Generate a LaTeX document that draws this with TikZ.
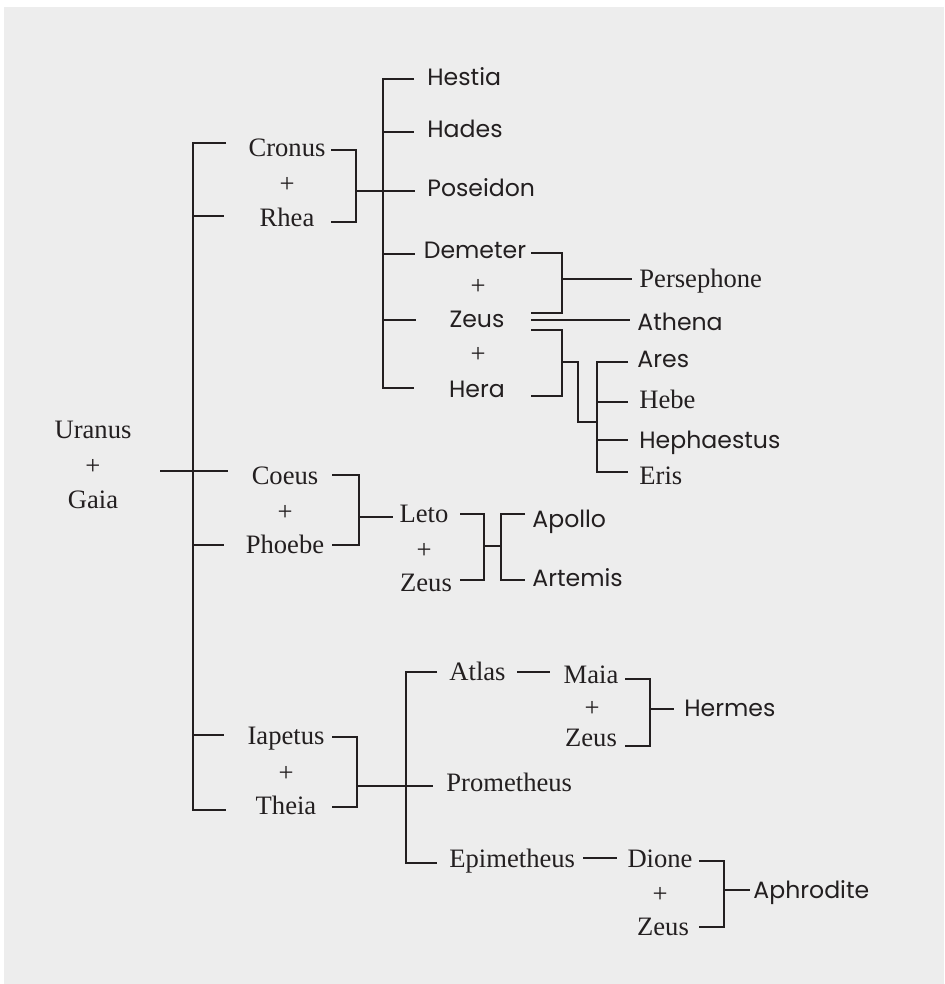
\documentclass[tikz,border=0pt]{standalone}
\usepackage{fontspec}
\setmainfont{Liberation Serif}
\newfontfamily\gsans{Poppins}
\definecolor{ink}{HTML}{231F20}
\definecolor{bg}{HTML}{EDEDED}
\newcommand\mybrk[6]{\draw[conn] (#1,#3) -- (#2,#3) -- (#2,#4) -- (#1,#4); \draw[conn] (#2,#5) -- (#6,#5);}
\newcommand\mybus[4]{\draw[conn] (#2,#3) -- (#1,#3) -- (#1,#4) -- (#2,#4);}
\tikzset{
  rm/.style={inner sep=0pt, text=ink, font=\fontsize{13.3}{16}\selectfont},
  sf/.style={inner sep=0pt, text=ink, font=\gsans\fontsize{11.8}{14}\selectfont},
  conn/.style={draw=ink, line width=1pt, line cap=butt, line join=miter}
}
\begin{document}
\begin{tikzpicture}[x=0.5pt,y=-0.5pt]
\useasboundingbox (0,0) rectangle (944,984);
\fill[white] (0,0) rectangle (944,984);
\fill[bg] (4,7) rectangle (944,984);

% ---- texts ----
\node[rm,anchor=base] (uranus) at (93,438) {Uranus};
\node[rm] (pu) at (93,467) {+};
\node[rm,anchor=base] (gaia) at (93,508) {Gaia};

\node[rm,anchor=base] (cronus) at (287,157) {Cronus};
\node[rm] (pc) at (287,185) {+};
\node[rm,anchor=base] (rhea) at (287,227) {Rhea};

\node[sf,anchor=base west] (hestia) at (427,86) {Hestia};
\node[sf,anchor=base west] (hades) at (427,138) {Hades};
\node[sf,anchor=base west] (poseidon) at (427,197) {Poseidon};
\node[sf,anchor=base] (demeter) at (475,258) {Demeter};
\node[rm] (pd1) at (478,287) {+};
\node[sf,anchor=base] (zeusm) at (477,327) {Zeus};
\node[rm] (pd2) at (478,355) {+};
\node[sf,anchor=base] (hera) at (477,397) {Hera};

\node[rm,anchor=base west] (persephone) at (639,287) {Persephone};
\node[sf,anchor=base west] (athena) at (637,330) {Athena};
\node[sf,anchor=base west] (ares) at (637,367) {Ares};
\node[rm,anchor=base west] (hebe) at (639,408) {Hebe};
\node[sf,anchor=base west] (hephaestus) at (639,448) {Hephaestus};
\node[rm,anchor=base west] (eris) at (639,484) {Eris};

\node[rm,anchor=base] (coeus) at (285,484) {Coeus};
\node[rm] (pco) at (285,513) {+};
\node[rm,anchor=base] (phoebe) at (285,553) {Phoebe};

\node[rm,anchor=base] (leto) at (424,522) {Leto};
\node[rm] (pl) at (424,551) {+};
\node[rm,anchor=base] (zeusl) at (426,591) {Zeus};
\node[sf,anchor=base west] (apollo) at (532,527) {Apollo};
\node[sf,anchor=base west] (artemis) at (532,586) {Artemis};

\node[rm,anchor=base] (iapetus) at (286,744) {Iapetus};
\node[rm] (pi) at (286,774) {+};
\node[rm,anchor=base] (theia) at (286,814) {Theia};

\node[rm,anchor=base west] (atlas) at (449,680) {Atlas};
\node[rm,anchor=base west] (prometheus) at (446,791) {Prometheus};
\node[rm,anchor=base west] (epimetheus) at (449,867) {Epimetheus};

\node[rm,anchor=base] (maia) at (591,683) {Maia};
\node[rm] (pm) at (592,709) {+};
\node[rm,anchor=base] (zeusa) at (591,746) {Zeus};
\node[sf,anchor=base west] (hermes) at (684,716) {Hermes};

\node[rm,anchor=base] (dione) at (660,867) {Dione};
\node[rm] (pdi) at (660,895) {+};
\node[rm,anchor=base] (zeusd) at (663,935) {Zeus};
\node[sf,anchor=base west] (aphrodite) at (753,898) {Aphrodite};

% ---- connectors ----
% Uranus + Gaia -> Titans
\mybus{193}{226}{143}{810}
\draw[conn] (193,216) -- (224,216);
\draw[conn] (160,471) -- (228,471);
\draw[conn] (193,545) -- (224,545);
\draw[conn] (193,735) -- (224,735);

% Cronus + Rhea
\mybrk{331}{356}{150}{222}{191}{415}
\mybus{383}{414}{79}{388}
\draw[conn] (383,132) -- (414,132);
\draw[conn] (383,254) -- (415,254);
\draw[conn] (383,320) -- (416,320);

% Demeter + Zeus
\mybrk{531}{562}{253}{313}{279}{632}
% Zeus -> Athena
\draw[conn] (531,320) -- (630,320);
% Zeus + Hera
\draw[conn] (531,330) -- (562,330) -- (562,396) -- (531,396);
\draw[conn] (562,362) -- (578,362) -- (578,422) -- (597,422);
\mybus{597}{628}{362}{472}
\draw[conn] (597,402) -- (628,402);
\draw[conn] (597,440) -- (628,440);

% Coeus + Phoebe
\mybrk{332}{359}{475}{545}{517}{393}
% Leto + Zeus
\mybrk{460}{484}{514}{580}{546}{501}
\mybus{501}{525}{514}{580}

% Iapetus + Theia
\mybrk{332}{357}{737}{807}{786}{433}
\mybus{406}{437}{672}{863}
\draw[conn] (517,672) -- (550,672);
\mybrk{625}{650}{679}{746}{709}{674}
\draw[conn] (583,858) -- (617,858);
\mybrk{699}{724}{861}{927}{890}{750}
\end{tikzpicture}
\end{document}
